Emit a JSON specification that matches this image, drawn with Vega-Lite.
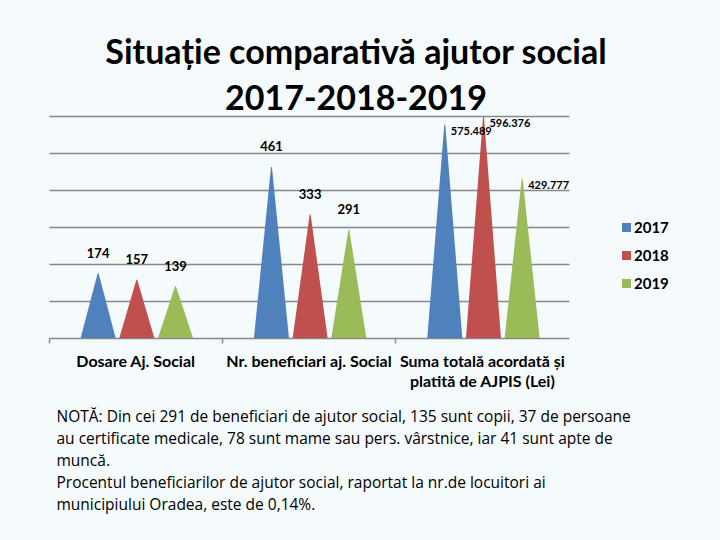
{
  "$schema": "https://vega.github.io/schema/vega-lite/v6.json",
  "width": 520,
  "height": 222,
  "padding": {"left": 48, "top": 37, "right": 80, "bottom": 40},
  "background": "#f5fafc",
  "title": {
    "text": ["Situație comparativă ajutor social", "2017-2018-2019"],
    "font": "Lato",
    "fontSize": 34,
    "fontWeight": "bold",
    "lineHeight": 46,
    "color": "#000000",
    "anchor": "middle",
    "dx": 47,
    "offset": -1
  },
  "config": {
    "view": {"stroke": null},
    "font": "Lato"
  },
  "data": {
    "values": [
      {"categorie": "Dosare Aj. Social", "an": "2017", "valoare": 174},
      {"categorie": "Dosare Aj. Social", "an": "2018", "valoare": 157},
      {"categorie": "Dosare Aj. Social", "an": "2019", "valoare": 139},
      {"categorie": "Nr. beneficiari aj. Social", "an": "2017", "valoare": 461},
      {"categorie": "Nr. beneficiari aj. Social", "an": "2018", "valoare": 333},
      {"categorie": "Nr. beneficiari aj. Social", "an": "2019", "valoare": 291},
      {"categorie": "Suma totală acordată și platită de AJPIS (Lei)", "an": "2017", "valoare": 575.489},
      {"categorie": "Suma totală acordată și platită de AJPIS (Lei)", "an": "2018", "valoare": 596.376},
      {"categorie": "Suma totală acordată și platită de AJPIS (Lei)", "an": "2019", "valoare": 429.777}
    ]
  },
  "encoding": {
    "x": {
      "field": "categorie",
      "type": "nominal",
      "sort": null,
      "scale": {"paddingInner": 0, "paddingOuter": 0},
      "axis": {
        "domainColor": "#888888",
        "domainWidth": 1.5,
        "tickColor": "#888888",
        "tickWidth": 1.5,
        "tickSize": 5,
        "bandPosition": 0,
        "labelAngle": 0,
        "labelFont": "Lato",
        "labelFontSize": 16,
        "labelFontWeight": "bold",
        "labelColor": "#000000",
        "labelPadding": 10,
        "labelLineHeight": 20,
        "labelExpr": "datum.value == 'Suma totală acordată și platită de AJPIS (Lei)' ? ['Suma totală acordată și', 'platită de AJPIS (Lei)'] : datum.label",
        "title": [
          "NOTĂ: Din cei 291 de beneficiari de ajutor social, 135 sunt copii, 37 de persoane",
          "au certificate medicale, 78 sunt mame sau pers. vârstnice, iar 41 sunt apte de",
          "muncă.",
          "Procentul beneficiarilor de ajutor social, raportat la nr.de locuitori ai",
          "municipiului Oradea, este de 0,14%."
        ],
        "titleFont": "Open Sans",
        "titleFontSize": 15.5,
        "titleFontWeight": "normal",
        "titleColor": "#000000",
        "titleLineHeight": 22,
        "titleAlign": "left",
        "titleBaseline": "top",
        "titleX": 7,
        "titleY": 71
      }
    },
    "xOffset": {
      "field": "an",
      "type": "nominal",
      "scale": {"type": "band", "paddingInner": 0, "paddingOuter": 0.74, "align": 0.52}
    }
  },
  "layer": [
    {
      "transform": [
        {"stack": "valoare", "groupby": ["categorie", "an"], "as": ["baza", "varf"]},
        {"fold": ["baza", "varf"], "as": ["capat", "nivel"]}
      ],
      "mark": {"type": "trail", "clip": true},
      "encoding": {
        "y": {
          "field": "nivel",
          "type": "quantitative",
          "scale": {"domain": [0, 600], "nice": false},
          "axis": {
            "values": [100, 200, 300, 400, 500, 600],
            "domain": false,
            "ticks": false,
            "labels": false,
            "title": null,
            "gridColor": "#888888",
            "gridWidth": 1.5
          }
        },
        "color": {
          "field": "an",
          "type": "nominal",
          "scale": {"domain": ["2017", "2018", "2019"], "range": ["#4f81bd", "#c0504d", "#9bbb59"]},
          "legend": {
            "title": null,
            "orient": "none",
            "legendX": 570,
            "legendY": 104,
            "symbolType": "square",
            "symbolSize": 81,
            "labelFont": "Lato",
            "labelFontSize": 15,
            "labelFontWeight": "bold",
            "labelColor": "#000000",
            "labelOffset": 0,
            "rowPadding": 12,
            "encode": {
              "symbols": {
                "update": {
                  "fill": {"scale": "color", "field": "value"},
                  "fillOpacity": {"value": 1},
                  "strokeWidth": {"value": 0}
                }
              }
            }
          }
        },
        "size": {
          "field": "capat",
          "type": "ordinal",
          "scale": {"type": "point", "domain": ["baza", "varf"], "range": [35, 0], "padding": 0},
          "legend": null
        },
        "detail": {"field": "categorie"},
        "order": {"field": "capat"}
      }
    },
    {
      "transform": [
        {"filter": "datum.categorie != 'Suma totală acordată și platită de AJPIS (Lei)'"}
      ],
      "mark": {"type": "text", "baseline": "middle", "dy": -20, "fontSize": 13, "fontWeight": "bold", "color": "#000000"},
      "encoding": {
        "y": {"field": "valoare", "type": "quantitative"},
        "text": {"field": "valoare", "type": "quantitative"}
      }
    },
    {
      "transform": [
        {"filter": "datum.categorie == 'Suma totală acordată și platită de AJPIS (Lei)'"}
      ],
      "mark": {"type": "text", "align": "left", "baseline": "middle", "dx": 6, "dy": 7, "fontSize": 11, "fontWeight": "bold", "color": "#000000"},
      "encoding": {
        "y": {"field": "valoare", "type": "quantitative"},
        "text": {"field": "valoare", "type": "quantitative"}
      }
    }
  ]
}
